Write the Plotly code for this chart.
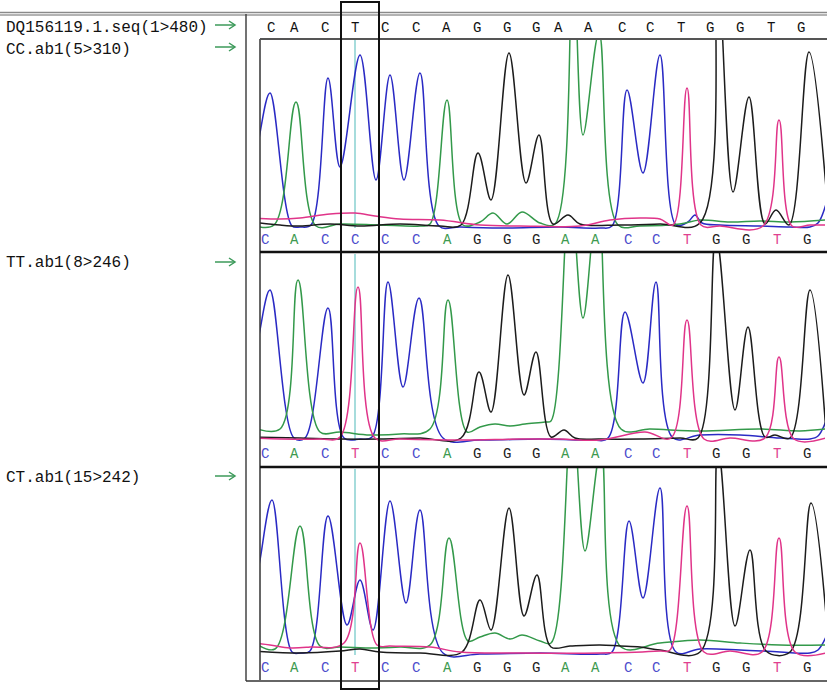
import plotly.graph_objects as go

W, H = 827, 693

# base calls and their positions (scan position ~ pixel column)
base_x = [265, 294, 325, 355, 385, 416, 447, 477, 507, 536, 565, 595, 628, 656, 687, 716, 746, 777, 807]
ref_seq = list("CACTCCAGGGAACCTGGTG")
calls_cc = list("CACCCCAGGGAACCTGGTG")
calls_tt = list("CACTCCAGGGAACCTGGTG")
calls_ct = list("CACTCCAGGGAACCTGGTG")

labels = ["DQ156119.1.seq(1>480)", "CC.ab1(5>310)", "TT.ab1(8>246)", "CT.ab1(15>242)"]

# ---- CC.ab1 traces (x = scan, y = intensity) ----
cc_c_x = [252, 260, 270, 292, 300, 311, 328, 340, 360, 376, 390, 404, 420, 439, 460, 500, 560, 600, 612, 627, 643, 660, 676, 688, 695, 702, 720, 760, 790, 810, 818, 826]
cc_c_y = [30, 95, 135, 2, 1, 3, 150, 61, 173, 48, 153, 48, 155, 2, 1, 0, 1, 0, 2, 138, 55, 173, 3, 6, 13, 5, 3, 2, 1, 1, 5, 24]
cc_a_x = [252, 274, 296, 316, 340, 380, 420, 430, 447, 463, 480, 493, 507, 522, 540, 555, 573, 583, 599, 618, 640, 680, 700, 730, 760, 790, 826]
cc_a_y = [3, 3, 126, 2, 4, 3, 2, 4, 128, 3, 6, 15, 4, 16, 5, 4, 265, 93, 195, 3, 2, 4, 8, 6, 7, 6, 8]
cc_g_x = [252, 280, 300, 330, 360, 400, 440, 461, 478, 491, 509, 526, 539, 553, 568, 580, 620, 660, 700, 717, 733, 749, 765, 776, 789, 809, 826]
cc_g_y = [6, 3, 2, 4, 2, 4, 2, 3, 75, 28, 175, 45, 93, 4, 13, 4, 3, 4, 5, 265, 36, 131, 4, 18, 3, 176, 40]
cc_t_x = [252, 280, 300, 330, 355, 375, 400, 440, 480, 520, 580, 610, 640, 660, 673, 687, 701, 720, 763, 779, 792, 810, 826]
cc_t_y = [10, 9, 10, 14, 15, 12, 9, 8, 3, 2, 2, 8, 10, 9, 3, 140, 3, 2, 2, 108, 2, 3, 3]

# ---- TT.ab1 traces ----
tt_c_x = [252, 260, 270, 294, 305, 328, 344, 360, 372, 388, 403, 419, 443, 480, 540, 590, 608, 625, 643, 656, 673, 700, 740, 780, 810, 818, 826]
tt_c_y = [50, 111, 151, 3, 3, 133, 3, 2, 4, 159, 54, 143, 3, 1, 2, 1, 3, 129, 58, 159, 3, 6, 6, 3, 2, 5, 20]
tt_a_x = [252, 280, 298, 320, 340, 370, 400, 430, 448, 467, 480, 495, 510, 525, 545, 551, 570, 583, 598, 621, 650, 700, 760, 800, 826]
tt_a_y = [14, 12, 161, 9, 9, 6, 7, 12, 141, 9, 14, 17, 15, 17, 19, 20, 255, 123, 245, 12, 12, 10, 12, 10, 12]
tt_g_x = [252, 300, 340, 380, 420, 461, 479, 491, 508, 524, 536, 551, 564, 575, 600, 640, 680, 698, 716, 735, 748, 765, 775, 790, 810, 826]
tt_g_y = [4, 3, 2, 2, 3, 3, 69, 29, 166, 46, 89, 4, 11, 3, 2, 2, 3, 3, 205, 31, 114, 4, 6, 3, 151, 8]
tt_t_x = [252, 280, 320, 340, 358, 375, 400, 460, 520, 560, 600, 645, 671, 687, 704, 730, 765, 779, 794, 826]
tt_t_y = [3, 2, 2, 4, 154, 3, 2, 1, 2, 2, 1, 9, 3, 121, 2, 3, 3, 84, 2, 3]

# ---- CT.ab1 traces ----
ct_c_x = [252, 260, 272, 292, 300, 310, 328, 347, 360, 373, 390, 406, 420, 443, 480, 540, 600, 612, 629, 643, 660, 676, 700, 740, 780, 810, 818, 826]
ct_c_y = [45, 95, 155, 3, 2, 4, 139, 30, 75, 25, 154, 52, 145, 2, 1, 2, 1, 3, 134, 57, 167, 3, 6, 5, 3, 2, 5, 18]
ct_a_x = [252, 275, 300, 320, 340, 370, 400, 430, 449, 468, 480, 495, 510, 522, 540, 551, 572, 585, 601, 621, 660, 700, 740, 780, 826]
ct_a_y = [14, 6, 129, 9, 8, 7, 8, 10, 117, 14, 18, 22, 16, 20, 14, 12, 245, 104, 205, 8, 12, 15, 12, 10, 10]
ct_g_x = [252, 300, 340, 360, 380, 420, 462, 480, 491, 509, 524, 537, 551, 570, 600, 620, 640, 660, 700, 718, 735, 750, 766, 790, 811, 826]
ct_g_y = [4, 2, 4, 6, 3, 2, 3, 55, 25, 147, 39, 80, 8, 9, 10, 9, 8, 5, 3, 205, 29, 105, 4, 3, 152, 40]
ct_t_x = [252, 270, 290, 310, 344, 360, 377, 390, 430, 460, 520, 600, 660, 670, 687, 704, 730, 762, 779, 795, 826]
ct_t_y = [12, 10, 7, 8, 12, 112, 10, 9, 8, 3, 2, 2, 4, 5, 149, 3, 4, 3, 117, 3, 2]

colors = {"C": "#2a2ac4", "A": "#33994a", "G": "#1c1c1c", "T": "#e03489"}
letter_colors = {"C": "#4d4dcc", "A": "#3c9a50", "G": "#222222", "T": "#e0408f"}

# panel: (yaxis, top px, bottom px, baseline px, letter px)
panels = [
    ("y", 39, 252, 228, 240, calls_cc,
     [("C", cc_c_x, cc_c_y), ("A", cc_a_x, cc_a_y), ("G", cc_g_x, cc_g_y), ("T", cc_t_x, cc_t_y)]),
    ("y2", 252, 467, 441, 454, calls_tt,
     [("C", tt_c_x, tt_c_y), ("A", tt_a_x, tt_a_y), ("G", tt_g_x, tt_g_y), ("T", tt_t_x, tt_t_y)]),
    ("y3", 467, 680, 655, 668, calls_ct,
     [("C", ct_c_x, ct_c_y), ("A", ct_a_x, ct_a_y), ("G", ct_g_x, ct_g_y), ("T", ct_t_x, ct_t_y)]),
]


def px(x):
    return x / W


def py(y):
    return 1 - y / H


fig = go.Figure()
annotations = []
layout_axes = {}

for yname, top, bottom, base, letter_y, calls, traces in panels:
    for base_letter, xs, ys in traces:
        fig.add_trace(go.Scatter(
            x=xs, y=ys, xaxis="x", yaxis=yname, mode="lines",
            line=dict(color=colors[base_letter], width=1.5, shape="spline", smoothing=1.0),
            hoverinfo="skip", showlegend=False,
        ))
    key = "yaxis" if yname == "y" else "yaxis" + yname[1:]
    layout_axes[key] = dict(
        domain=[py(bottom), py(top)], range=[base - bottom, base - top],
        anchor="x", visible=False, fixedrange=True,
    )
    for bx, b in zip(base_x, calls):
        annotations.append(dict(
            x=bx, y=base - letter_y, xref="x", yref=yname, text=b, showarrow=False,
            font=dict(family="Liberation Mono", size=14, color=letter_colors[b]),
        ))

# reference sequence row
for bx, b in zip(base_x, ref_seq):
    annotations.append(dict(
        x=px(bx), y=py(28), xref="paper", yref="paper", text=b, showarrow=False,
        yanchor="middle",
        font=dict(family="Liberation Mono", size=14, color="#111111"),
    ))

label_y = [28, 50, 263, 478]
arrow_y = [25, 47, 262, 476]
for lab, ly in zip(labels, label_y):
    annotations.append(dict(
        x=px(4), y=py(ly), xref="paper", yref="paper", text=lab, showarrow=False,
        xanchor="left", yanchor="middle",
        font=dict(family="Liberation Mono", size=16, color="#111111"),
    ))


def line(x0, y0, x1, y1, color, width, layer="above"):
    return dict(type="line", xref="paper", yref="paper", x0=px(x0), y0=py(y0), x1=px(x1), y1=py(y1),
                line=dict(color=color, width=width), layer=layer)


shapes = [
    line(0, 12.5, W, 12.5, "#8a8a8a", 1.5),
    line(0, 15, W, 15, "#9a9a9a", 1.5),
    line(246, 14, 246, 681, "#444444", 1.5),
    line(246, 681, W, 681, "#333333", 1.5),
    line(260, 39, 260, 680, "#333333", 1.5),
    line(260, 39, W, 39, "#555555", 2),
    line(260, 252, W, 252, "#111111", 2.5),
    line(260, 467, W, 467, "#111111", 2.5),
    line(355, 40, 355, 228, "#a6dcdc", 2, "below"),
    line(355, 254, 355, 441, "#a6dcdc", 2, "below"),
    line(355, 469, 355, 655, "#a6dcdc", 2, "below"),
    dict(type="rect", xref="paper", yref="paper", x0=px(341), x1=px(379), y0=py(689), y1=py(2),
         line=dict(color="#111111", width=2)),
]
for ay in arrow_y:
    shapes.append(line(215, ay, 235, ay, "#3c9a5a", 1.5))
    shapes.append(dict(
        type="path", xref="paper", yref="paper",
        path=f"M {px(229)} {py(ay - 4)} L {px(235)} {py(ay)} L {px(229)} {py(ay + 4)}",
        line=dict(color="#3c9a5a", width=1.5),
    ))

fig.update_layout(
    width=W, height=H,
    margin=dict(l=0, r=0, t=0, b=0),
    paper_bgcolor="white", plot_bgcolor="white",
    xaxis=dict(domain=[px(260), px(825)], range=[260, 825], visible=False, fixedrange=True),
    annotations=annotations,
    shapes=shapes,
    **layout_axes,
)

fig.write_html("out.html", config={"displayModeBar": False},
               post_script="document.body.style.margin='0';")
